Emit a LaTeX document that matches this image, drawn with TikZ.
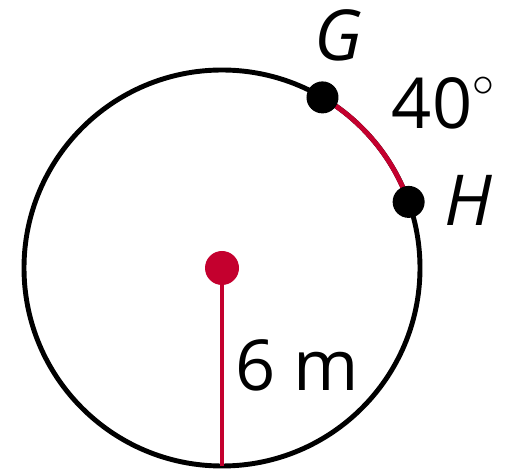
\documentclass[tikz,border=0pt]{standalone}
\usepackage{fontspec}
\setmainfont{Open Sans}
\usetikzlibrary{positioning}
\definecolor{arcred}{RGB}{196,0,46}

\begin{document}
\begin{tikzpicture}[x=0.02cm,y=-0.02cm,
  rim/.style={line width=2.8pt},
  dotmark/.style={circle,fill,inner sep=0pt,minimum size=32*0.02cm},
  lbl/.style={font=\fontsize{40}{40}\selectfont,inner sep=0pt}]
\useasboundingbox (0,0) rectangle (507,472);
\coordinate (C) at (222,268);
\draw[rim] (C) circle[radius=198*0.02cm];
\draw[rim,arcred] ([shift={(59.5:198*0.02cm)}]C) arc[start angle=59.5,end angle=19.5,radius=198*0.02cm];
\coordinate (B) at ([shift={(-90:198*0.02cm)}]C);
\draw[rim,arcred] (C) -- (B);
\node[dotmark,arcred,minimum size=34*0.02cm] (O) at (C) {};
\node[dotmark] (G) at ([shift={(59.5:198*0.02cm)}]C) {};
\node[dotmark] (H) at ([shift={(19.5:198*0.02cm)}]C) {};
% labels
\node[lbl] (Gl) at (338,35) {\itshape G};
\node[lbl] (Hl) at (468,200) {\itshape H};
\node[lbl] (ang) at (443,103) {40\raisebox{18pt}{\fontsize{42}{42}\selectfont$\circ$}};
\node[lbl] (rad) at (297,365) {6 m};
\end{tikzpicture}
\end{document}
